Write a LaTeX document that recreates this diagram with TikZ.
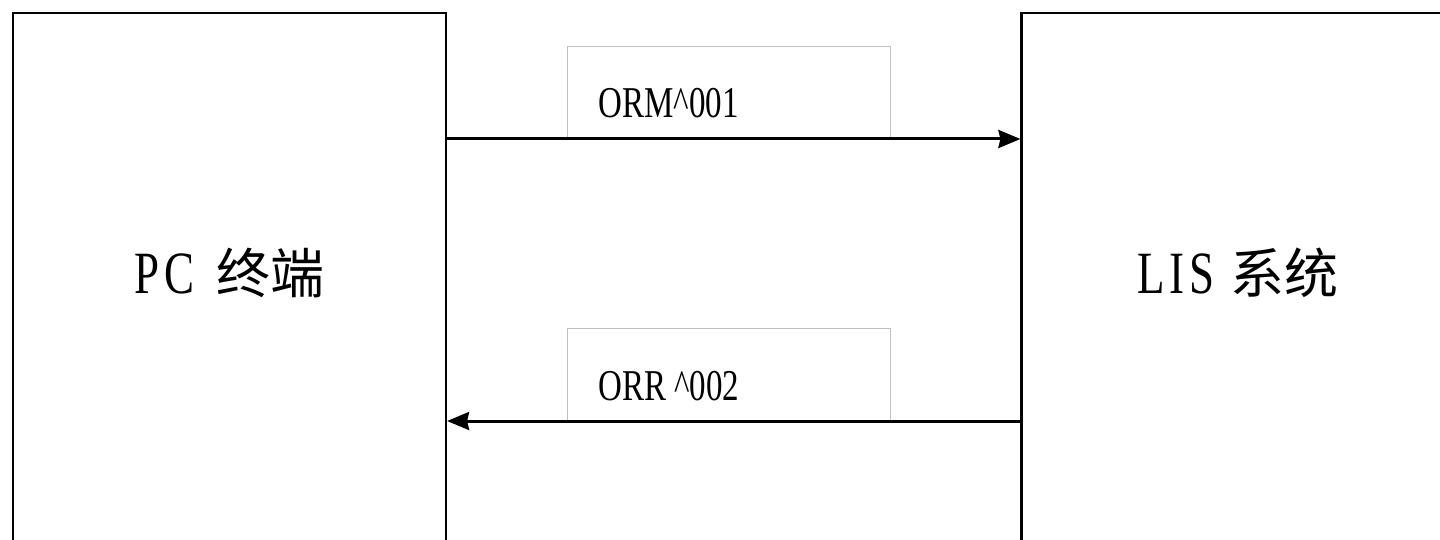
\documentclass[tikz,border=0pt]{standalone}
\usepackage{fontspec}
\setmainfont[FakeStretch=0.75]{Liberation Serif}
\newfontfamily\sysfont[FakeStretch=0.75, LetterSpace=8]{Liberation Serif}
\newfontfamily\cjk{Noto Sans CJK SC}
\usetikzlibrary{arrows.meta,positioning}

\begin{document}
\begin{tikzpicture}[x=0.5pt, y=-0.5pt, >={Stealth[length=11pt,width=9pt,inset=1pt]},
  sysbox/.style={draw, line width=1.1pt, minimum width=216.5pt,
    minimum height=287pt, inner sep=0pt},
  msgbox/.style={draw=black!25, line width=0.5pt, minimum width=161.5pt,
    minimum height=46pt, inner sep=0pt},
  systext/.style={font=\sysfont\fontsize{30}{36}\selectfont, inner sep=0pt, anchor=base},
  msgtext/.style={font=\fontsize{22}{26}\selectfont, inner sep=0pt, anchor=base west},
  flow/.style={->, line width=1.5pt}]
  \path[use as bounding box, clip] (0,0) rectangle (1440,540);
  \node[sysbox] (pc) at (229.5,300) {};
  \node[sysbox] (lis) at (1238,300) {};
  \node[systext] (pcname) at (229.5,293) {PC\hspace{11pt}{\cjk\fontsize{27}{30}\selectfont 终端}};
  \node[systext] (lisname) at (1238,293) {LIS {\cjk\fontsize{27}{30}\selectfont 系统}};
  \node[msgbox] (ormbox) at (728.5,92.5) {};
  \node[msgbox] (orrbox) at (728.5,374.5) {};
  \node[msgtext] (orm) at (598,118) {ORM\textasciicircum 001};
  \node[msgtext] (orr) at (598,400) {ORR \textasciicircum 002};
  \draw[flow] (pc.east |- ormbox.south) -- (lis.west |- ormbox.south);
  \draw[flow] (lis.west |- orrbox.south) -- (pc.east |- orrbox.south);
\end{tikzpicture}
\end{document}
